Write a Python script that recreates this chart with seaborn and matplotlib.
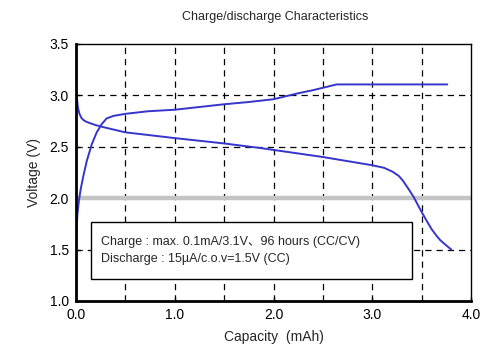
import pandas as pd
import seaborn as sns
import matplotlib.pyplot as plt
from matplotlib.patches import Rectangle

# Values
charge_cap = [0.0, 0.005, 0.015, 0.03, 0.05, 0.08, 0.11, 0.16, 0.21, 0.26,
              0.31, 0.38, 0.50, 0.73, 1.0, 1.5, 1.75, 2.0, 2.25, 2.4,
              2.55, 2.64, 3.76]
charge_v = [1.55, 1.70, 1.85, 1.98, 2.10, 2.24, 2.365, 2.525, 2.64, 2.72,
            2.775, 2.80, 2.82, 2.845, 2.86, 2.913, 2.935, 2.962, 3.02, 3.05,
            3.085, 3.106, 3.106]

discharge_cap = [0.0, 0.005, 0.012, 0.02, 0.035, 0.055, 0.075, 0.10, 0.14,
                 0.20, 0.28, 0.5, 1.0, 1.5, 1.87, 2.5, 3.0, 3.12, 3.21,
                 3.27, 3.31, 3.36, 3.42, 3.50, 3.56, 3.60, 3.65, 3.69, 3.75,
                 3.80]
discharge_v = [3.11, 3.03, 2.95, 2.88, 2.82, 2.78, 2.76, 2.745, 2.73, 2.71,
               2.69, 2.64, 2.584, 2.532, 2.487, 2.40, 2.32, 2.295, 2.255,
               2.215, 2.17, 2.10, 2.01, 1.865, 1.765, 1.70, 1.635, 1.59,
               1.54, 1.50]

x_ticks = [0.0, 1.0, 2.0, 3.0, 4.0]
y_ticks = [1.0, 1.5, 2.0, 2.5, 3.0, 3.5]
grid_x = [0.5, 1.0, 1.5, 2.0, 2.5, 3.0, 3.5]
grid_y = [1.5, 2.0, 2.5, 3.0]
cutoff_v = 2.0

note_lines = ["Charge : max. 0.1mA/3.1V、96 hours (CC/CV)",
              "Discharge : 15µA/c.o.v=1.5V (CC)"]

sns.set_style("white")
plt.rcParams['font.family'] = ['Liberation Sans', 'Noto Sans CJK JP', 'DejaVu Sans']

fig = plt.figure(figsize=(5, 3.6), dpi=100)
ax = fig.add_axes([0.152, 0.164, 0.790, 0.714])

# dashed grid
for gx in grid_x:
    ax.axvline(gx, color='black', lw=0.9, ls=(0, (5, 4)), zorder=1)
for gy in grid_y:
    ax.axhline(gy, color='black', lw=0.9, ls=(0, (5, 4)), zorder=1)

# gray reference line
ax.axhline(cutoff_v, color='#c4c4c4', lw=3.2, zorder=2)

charge = pd.DataFrame({'cap': charge_cap, 'v': charge_v})
discharge = pd.DataFrame({'cap': discharge_cap, 'v': discharge_v})
sns.lineplot(data=charge, x='cap', y='v', sort=False, estimator=None,
             color='#3535cc', lw=1.4, ax=ax, zorder=4)
sns.lineplot(data=discharge, x='cap', y='v', sort=False, estimator=None,
             color='#3535cc', lw=1.4, ax=ax, zorder=4)

# condition box
ax.add_patch(Rectangle((0.15, 1.21), 3.25, 0.56, facecolor='white',
                       edgecolor='black', lw=1.0, zorder=3))
ax.text(0.25, 1.575, note_lines[0], fontsize=9, va='center', ha='left', zorder=5)
ax.text(0.25, 1.41, note_lines[1], fontsize=9, va='center', ha='left', zorder=5)

ax.set_xlim(0, 4.0)
ax.set_ylim(1.0, 3.5)
ax.set_xticks(x_ticks)
ax.set_xticklabels([f"{t:.1f}" for t in x_ticks])
ax.set_yticks(y_ticks)
ax.set_yticklabels([f"{t:.1f}" for t in y_ticks])
ax.tick_params(axis='both', direction='in', length=3, width=1, labelsize=10,
               colors='black', pad=5)
ax.tick_params(bottom=True, left=True)

for side in ['left', 'bottom']:
    ax.spines[side].set_linewidth(2.0)
for side in ['top', 'right']:
    ax.spines[side].set_linewidth(1.0)
for sp in ax.spines.values():
    sp.set_color('black')
    sp.set_zorder(6)

ax.set_xlabel("Capacity  (mAh)", fontsize=10, labelpad=6)
ax.set_ylabel("Voltage (V)", fontsize=10, labelpad=6)
fig.text(0.55, 0.953, "Charge/discharge Characteristics", fontsize=9,
         ha='center', va='center')

fig.savefig("out.png", dpi=100)
